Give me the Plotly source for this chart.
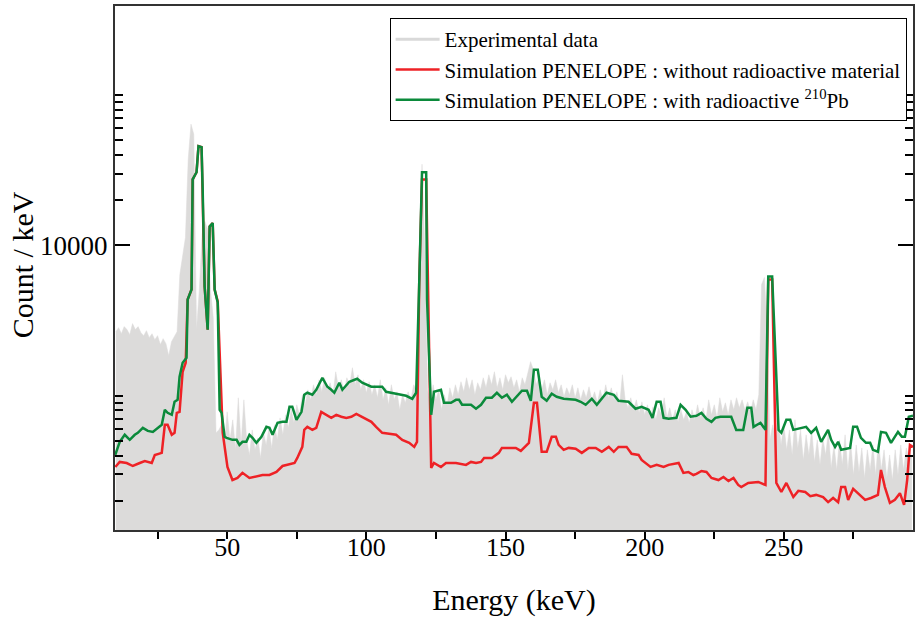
import plotly.graph_objects as go

# ---------------- data ----------------
# Experimental spectrum, 1 keV bins
exp_E = list(range(10, 297))
exp_counts = [
    2671, 2840, 2590, 2884, 2755, 2550, 3020, 2755, 2884, 2630,
    2512, 2712, 2436, 2590, 2360, 2512, 2190, 2399, 2222, 1848,
    2291, 2474, 2671, 6410, 8318, 11300, 37400, 64100, 54950, 2755,
    5090, 11840, 14450, 12790, 5090, 3300, 567, 593, 641, 471,
    782, 509, 692, 437, 970, 471, 940, 509, 404, 593,
    437, 525, 386, 575, 471, 612, 450, 641, 509, 713,
    550, 747, 612, 807, 661, 871, 747, 1016, 871, 1096,
    940, 1184, 1016, 1278, 1063, 1318, 1096, 1221, 1016, 1445,
    1130, 1278, 1063, 1318, 1166, 1537, 1184, 1380, 1096, 1278,
    1047, 1240, 1016, 1184, 970, 1278, 940, 1130, 871, 1184,
    940, 1063, 807, 1016, 898, 1063, 940, 1184, 1096, 5930,
    34700, 9400, 1096, 871, 1184, 940, 1096, 807, 1016, 871,
    1130, 970, 1184, 1016, 1240, 1063, 1318, 1096, 1278, 1016,
    1221, 1096, 1318, 1130, 1380, 1184, 1445, 1130, 1318, 1096,
    1380, 1221, 1339, 1130, 1278, 1063, 1318, 1184, 1445, 1686,
    1490, 1184, 1318, 1096, 1278, 1016, 1221, 1096, 1278, 1047,
    1184, 985, 1130, 1016, 1184, 970, 1130, 940, 1096, 970,
    1148, 940, 1063, 898, 1096, 940, 1184, 970, 1130, 940,
    1063, 871, 1380, 940, 832, 970, 807, 940, 770, 912,
    747, 871, 713, 845, 692, 832, 747, 970, 713, 832,
    692, 807, 671, 807, 692, 782, 661, 807, 692, 871,
    713, 832, 692, 940, 747, 871, 713, 970, 782, 898,
    747, 940, 807, 970, 832, 940, 807, 912, 782, 940,
    807, 1016, 5495, 6120, 2755, 509, 641, 509, 692, 471,
    641, 437, 593, 404, 692, 450, 593, 374, 550, 404,
    593, 363, 509, 347, 525, 404, 575, 331, 471, 321,
    509, 347, 550, 321, 494, 297, 471, 311, 450, 284,
    437, 321, 471, 297, 509, 321, 437, 284, 404, 275,
    437, 297, 471, 321, 450, 374, 404,
]

# Simulation without radioactive material (red)
red_E = [
    9.8, 11.4, 13.9, 16.1, 18.6, 20.4, 22.9, 24.0, 26.5, 27.6,
    28.6, 30.1, 31.1, 31.9, 32.9, 34.0, 35.1, 35.8, 37.2, 37.6,
    39.0, 39.7, 40.8, 41.2, 41.9, 43.0, 43.7, 44.8, 45.5, 46.6,
    48.4, 50.1, 51.9, 53.7, 55.5, 58.0, 60.5, 62.7, 65.2, 67.7,
    69.9, 72.4, 74.2, 75.2, 77.0, 77.7, 78.8, 80.6, 82.0, 83.8,
    85.6, 87.4, 89.2, 91.0, 92.8, 94.6, 96.4, 98.5, 101.8, 103.5,
    105.7, 108.2, 110.7, 112.9, 115.4, 117.2, 118.2, 119.0, 120.0, 121.5,
    122.2, 123.3, 124.3, 126.8, 128.6, 132.2, 135.8, 137.6, 139.4, 141.2,
    142.3, 145.1, 147.6, 148.7, 153.7, 155.5, 158.4, 160.2, 161.3, 163.0,
    164.8, 166.6, 168.1, 169.1, 170.9, 172.7, 175.2, 177.4, 179.9, 182.4,
    184.6, 187.1, 188.9, 190.6, 193.5, 195.3, 197.8, 198.9, 202.1, 204.3,
    206.8, 208.6, 212.2, 213.9, 215.7, 217.5, 218.6, 220.4, 222.2, 224.0,
    226.5, 228.3, 230.1, 231.9, 233.6, 234.7, 237.2, 240.8, 243.4, 244.4,
    245.8, 247.3, 249.1, 250.9, 253.4, 255.2, 257.7, 259.5, 261.6, 264.1,
    265.9, 267.7, 269.5, 270.6, 272.0, 273.1, 274.9, 276.7, 279.2, 281.3,
    283.8, 284.9, 286.3, 288.1, 289.9, 291.7, 293.2, 294.3, 295.3, 296.4,
]
red_counts = [
    336, 363, 357, 341, 357, 368, 357, 404, 417, 641,
    641, 550, 567, 770, 782, 1445, 1660, 4365, 5090, 27500,
    30700, 45700, 45000, 23600, 5330, 2755, 13390, 14100, 5090, 4235,
    567, 336, 275, 284, 307, 284, 292, 297, 297, 311,
    341, 352, 357, 386, 457, 593, 621, 593, 612, 782,
    747, 713, 747, 725, 713, 725, 758, 725, 671, 621,
    567, 558, 550, 509, 486, 457, 494, 5670, 27500, 27500,
    4365, 331, 357, 336, 357, 357, 347, 363, 357, 363,
    386, 386, 417, 450, 450, 430, 486, 898, 898, 424,
    424, 533, 533, 471, 437, 450, 444, 417, 450, 450,
    424, 457, 424, 457, 457, 411, 404, 374, 336, 347,
    336, 347, 357, 307, 311, 297, 302, 316, 311, 284,
    275, 288, 271, 284, 255, 247, 263, 267, 255, 5930,
    5930, 263, 229, 263, 212, 233, 229, 215, 219, 212,
    196, 209, 196, 247, 247, 203, 240, 225, 203, 209,
    219, 321, 247, 194, 203, 225, 188, 275, 471, 457,
]

# Simulation with radioactive 210Pb (green)
green_E = [
    9.8, 11.4, 13.2, 15.0, 16.8, 17.9, 19.7, 21.5, 23.3, 25.1,
    26.5, 27.6, 28.6, 30.1, 31.1, 32.2, 32.9, 34.0, 35.4, 35.8,
    37.2, 37.6, 39.0, 39.7, 40.8, 41.2, 41.9, 43.0, 43.7, 44.8,
    45.5, 46.6, 47.3, 48.0, 49.1, 49.8, 51.9, 53.4, 54.4, 55.5,
    56.9, 58.0, 59.1, 60.5, 62.3, 64.1, 65.2, 66.3, 68.1, 69.9,
    71.3, 72.4, 73.4, 74.9, 76.7, 77.7, 78.8, 80.6, 82.0, 84.2,
    86.0, 87.4, 88.5, 90.3, 91.4, 93.9, 96.7, 98.5, 101.8, 105.7,
    107.1, 110.7, 114.3, 116.5, 117.9, 119.0, 120.0, 121.5, 121.8, 123.3,
    124.3, 126.8, 127.9, 130.4, 132.2, 133.3, 134.4, 137.6, 139.4, 141.2,
    143.0, 145.1, 146.9, 148.7, 150.5, 152.3, 155.9, 157.7, 159.1, 160.2,
    161.6, 163.0, 164.8, 166.6, 168.4, 170.9, 175.2, 177.0, 178.8, 181.0,
    182.8, 186.3, 188.9, 190.6, 194.2, 196.7, 198.9, 201.4, 202.8, 204.3,
    205.7, 206.8, 208.6, 211.4, 212.9, 214.7, 216.5, 218.6, 220.4, 222.2,
    224.0, 225.4, 227.2, 231.1, 232.9, 235.4, 236.9, 238.3, 239.1, 241.6,
    243.4, 244.4, 245.8, 248.1, 249.1, 250.9, 252.3, 253.4, 255.9, 258.0,
    259.8, 261.6, 263.4, 265.9, 267.0, 268.4, 269.5, 270.6, 273.8, 274.9,
    276.3, 277.7, 279.5, 281.0, 282.0, 283.8, 284.9, 286.7, 288.5, 291.0,
    292.4, 293.5, 294.9, 296.4,
]
green_counts = [
    404, 494, 550, 509, 550, 567, 612, 584, 575, 612,
    641, 807, 770, 747, 912, 940, 1339, 1660, 1790, 4365,
    5090, 27500, 30700, 45700, 45000, 23600, 5330, 2755, 13390, 14100,
    5090, 4170, 807, 770, 533, 525, 509, 509, 471, 494,
    494, 550, 525, 486, 533, 621, 612, 550, 661, 671,
    671, 845, 845, 692, 782, 1016, 1047, 1016, 1096, 1318,
    1148, 1096, 1047, 1221, 1096, 1240, 1298, 1221, 1148, 1148,
    1063, 1031, 1000, 955, 1047, 5670, 30700, 30700, 4365, 747,
    1063, 1096, 898, 898, 940, 940, 871, 871, 820, 871,
    970, 970, 1047, 970, 1016, 912, 1080, 1080, 926, 1490,
    1490, 985, 926, 1031, 985, 955, 940, 912, 871, 955,
    871, 1047, 1016, 926, 912, 820, 845, 807, 713, 912,
    912, 713, 703, 713, 871, 807, 725, 736, 770, 703,
    671, 713, 725, 725, 593, 593, 832, 832, 621, 661,
    593, 6210, 6210, 593, 567, 692, 692, 593, 612, 621,
    567, 612, 494, 593, 509, 457, 494, 437, 450, 621,
    621, 525, 486, 486, 437, 424, 575, 567, 486, 575,
    533, 533, 725, 736,
]

# Axis ticks
x_major_vals = [50, 100, 150, 200, 250]
x_minor_vals = [25, 75, 125, 175, 225, 275]
y_major_vals = [10000]
y_major_text = ["10000"]
y_minor_vals = [200, 300, 400, 500, 600, 700, 800, 900, 1000,
                20000, 30000, 40000, 50000, 60000, 70000, 80000, 90000, 100000]

names = ["Experimental data",
         "Simulation PENELOPE : without radioactive material",
         "Simulation PENELOPE : with radioactive <sup>210</sup>Pb"]
x_title = "Energy (keV)"
y_title = "Count / keV"

GRAY_FILL = "#dcdbda"
GRAY_LINE = "#d9d9d9"
RED = "#ee2226"
GREEN = "#0b8a3b"
FONT = "Liberation Serif, Times New Roman, serif"

# ---------------- figure ----------------
fig = go.Figure()
# baseline well below the visible range so the fill reaches the bottom axis
fig.add_trace(go.Scatter(x=[exp_E[0], exp_E[-1]], y=[1, 1], mode="lines",
                         line=dict(width=0, color=GRAY_FILL), showlegend=False,
                         hoverinfo="skip"))
fig.add_trace(go.Scatter(x=exp_E, y=exp_counts, mode="lines", fill="tonexty",
                         fillcolor=GRAY_FILL, line=dict(color=GRAY_FILL, width=0.5),
                         showlegend=False))
fig.add_trace(go.Scatter(x=[None], y=[None], mode="lines", name=names[0],
                         line=dict(color=GRAY_LINE, width=3)))
fig.add_trace(go.Scatter(x=red_E, y=red_counts, mode="lines", name=names[1],
                         line=dict(color=RED, width=2.5)))
fig.add_trace(go.Scatter(x=green_E, y=green_counts, mode="lines", name=names[2],
                         line=dict(color=GREEN, width=2.5)))

fig.update_layout(
    width=915, height=618,
    margin=dict(l=115, r=0, t=6, b=88),
    paper_bgcolor="white", plot_bgcolor="white",
    font=dict(family=FONT, color="black"),
    showlegend=True,
    legend=dict(x=0.992, y=0.977, xanchor="right", yanchor="top",
                traceorder="normal", itemwidth=44,
                bgcolor="white", bordercolor="black", borderwidth=1,
                font=dict(family=FONT, size=21, color="black"),
                tracegroupgap=0),
    annotations=[
        dict(text=y_title, xref="paper", yref="paper", x=-0.116, y=0.506,
             xanchor="center", yanchor="middle", textangle=-90, showarrow=False,
             font=dict(family=FONT, size=30, color="black")),
    ],
)
fig.update_xaxes(
    range=[9.7, 296.4], tickmode="array", tickvals=x_major_vals,
    ticks="outside", ticklen=7, tickwidth=2, tickcolor="black",
    ticklabelstandoff=-14,
    minor=dict(tickmode="array", tickvals=x_minor_vals, ticks="outside",
               ticklen=7, tickwidth=2, tickcolor="black", showgrid=False),
    showline=True, linecolor="#333333", linewidth=2, mirror=True,
    showgrid=False, zeroline=False,
    tickfont=dict(family=FONT, size=26, color="black"),
    title=dict(text=x_title, font=dict(family=FONT, size=30, color="black"), standoff=28),
)
fig.update_yaxes(
    type="log", range=[2.107, 5.593], tickmode="array",
    tickvals=y_major_vals, ticktext=y_major_text,
    ticks="inside", ticklen=15, tickwidth=2, tickcolor="black",
    minor=dict(tickmode="array", tickvals=y_minor_vals, ticks="inside",
               ticklen=8, tickwidth=2, tickcolor="black", showgrid=False),
    showline=True, linecolor="#333333", linewidth=2, mirror="ticks",
    showgrid=False, zeroline=False,
    tickfont=dict(family=FONT, size=27, color="black"),
)

fig.write_html("out.html", config={"displayModeBar": False},
               post_script="document.body.style.margin='0px';")
